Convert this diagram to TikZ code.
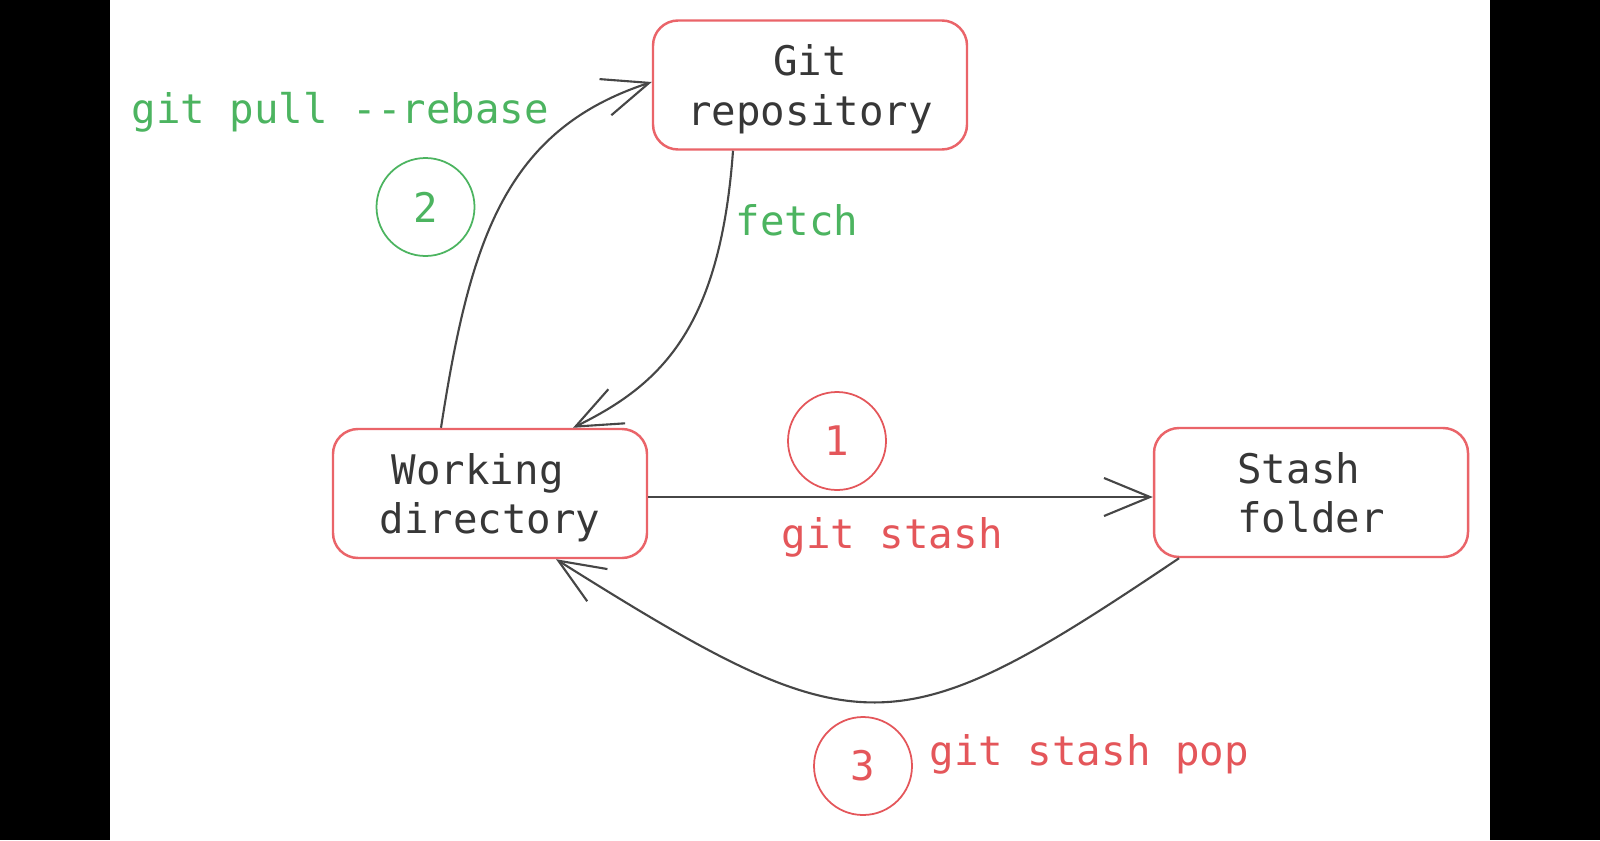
\documentclass[tikz,border=0pt]{standalone}
\usepackage{fontspec}
\setmonofont{DejaVu Sans Mono}
\usetikzlibrary{arrows.meta}
\definecolor{boxred}{RGB}{234,100,105}
\definecolor{txtred}{RGB}{228,86,90}
\definecolor{txtgreen}{RGB}{76,180,96}
\definecolor{ink}{RGB}{55,55,55}
\definecolor{wire}{RGB}{70,70,70}
\tikzset{
  box/.style={draw=boxred, line width=0.7pt, rounded corners=0.25cm, minimum width=3.14cm, minimum height=1.29cm, align=center, text=ink, text depth=-0.06cm, inner sep=0pt},
  numcirc/.style={draw, circle, minimum size=0.98cm, inner sep=0pt, line width=0.5pt},
  lbl/.style={inner sep=0pt, anchor=base west},
  flow/.style={draw=wire, line width=0.6pt, -{Straight Barb[length=0.46cm,width=0.38cm]}}
}
\begin{document}
\begin{tikzpicture}[font=\ttfamily\fontsize{11.6}{14.2}\selectfont]
\fill [white] (1.10,0) rectangle (14.90,-8.4);
\fill [black] (0,0) rectangle (1.10,-8.4);
\fill [black] (14.90,0) rectangle (16,-8.4);
\useasboundingbox (0,0) rectangle (16,-8.4);

\node[box] (repo) at (8.10,-0.85) {Git\\repository};
\node[box] (work) at (4.90,-4.935) {Working\hphantom{x}\\directory};
\node[box] (stash) at (13.11,-4.925) {Stash\hphantom{x}\\folder};

\node[numcirc, draw=txtgreen, text=txtgreen] (n2) at (4.255,-2.07) {2};
\node[numcirc, draw=txtred, text=txtred] (n1) at (8.37,-4.41) {1};
\node[numcirc, draw=txtred, text=txtred] (n3) at (8.63,-7.66) {3};

\node[lbl, text=txtgreen] (pull) at (1.31,-1.235) {git pull -{}-rebase};
\node[lbl, text=txtgreen] (fetchlbl) at (7.35,-2.35) {fetch};
\node[lbl, text=txtred] (stashlbl) at (7.81,-5.48) {git stash};
\node[lbl, text=txtred] (poplbl) at (9.29,-7.65) {git stash pop};

\draw[flow] ([xshift=-0.49cm]work.north) .. controls (4.7,-2.4) and (5.05,-1.3) .. ([yshift=0.03cm]repo.west);
\draw[flow] ([xshift=-0.77cm]repo.south) .. controls (7.2,-3.3) and (6.6,-3.85) .. ([xshift=0.83cm]work.north);
\draw[flow] ([yshift=-0.035cm]work.east) -- ([yshift=-0.035cm]work.east -| stash.west);
\draw[flow] ([xshift=-1.32cm]stash.south) .. controls (8.94,-7.5) and (8.6,-7.5) .. ([xshift=0.66cm]work.south);
\end{tikzpicture}
\end{document}
